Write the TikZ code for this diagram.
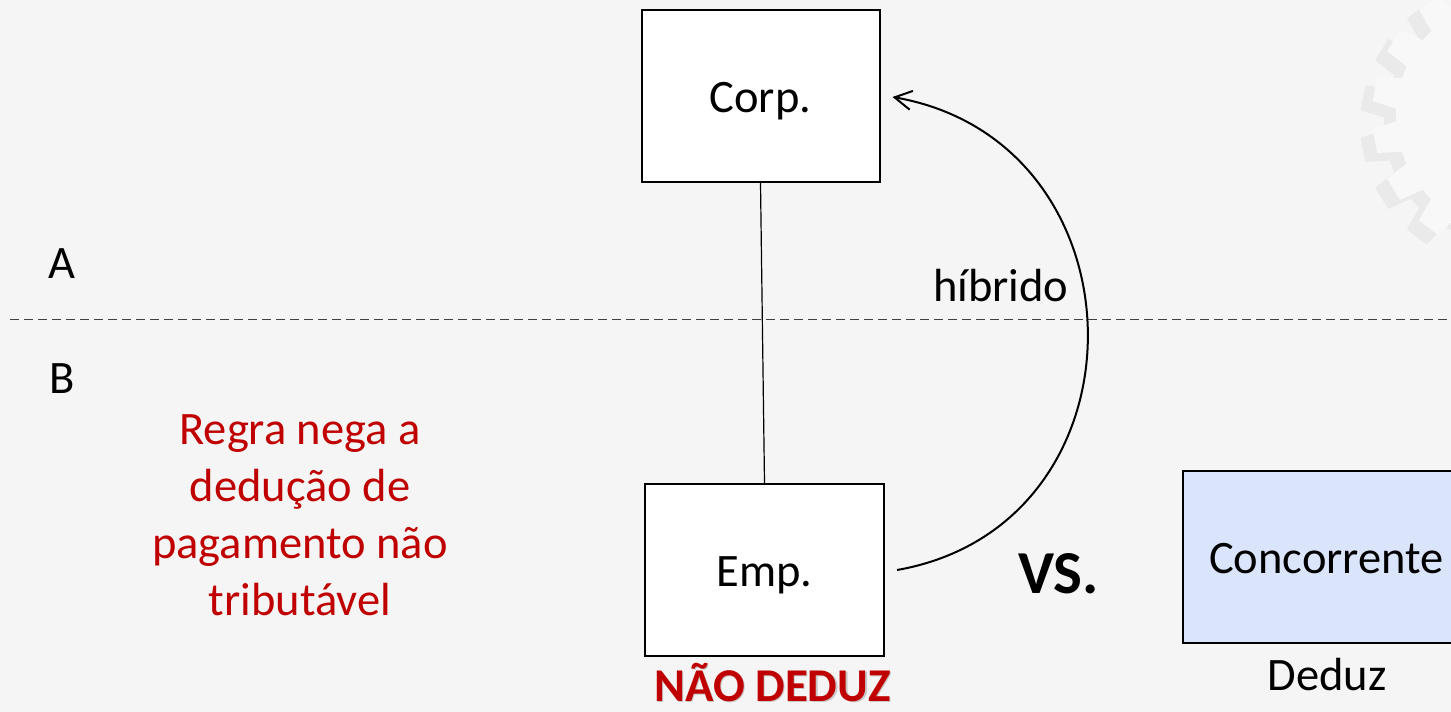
\documentclass[tikz,border=0pt]{standalone}
\usepackage{fontspec}
\setmainfont{Carlito}
\usetikzlibrary{arrows.meta,calc}
\definecolor{bgc}{HTML}{F5F5F5}
\definecolor{redc}{HTML}{C00000}
\definecolor{bluec}{HTML}{DAE5FB}
\definecolor{dashc}{HTML}{404040}
\definecolor{gearshade}{HTML}{EAEAEA}
\definecolor{gearface}{HTML}{F8F8F8}
\begin{document}
\begin{tikzpicture}[x=1pt,y=-1pt,
  txt/.style={font=\fontsize{46.5}{56.7}\selectfont, inner sep=0pt},
  box/.style={draw=black, line width=2pt, fill=white, minimum width=238pt,
    minimum height=172pt, inner sep=0pt, text height=33pt, text depth=0pt,
    font=\fontsize{46.5}{56.7}\selectfont},
  boldtxt/.style={font=\bfseries\fontsize{47}{56}\selectfont, inner sep=0pt, text depth=0pt},
]
\useasboundingbox (0,0) rectangle (1451,712);
\clip (0,0) rectangle (1451,712);
\fill[bgc] (0,0) rectangle (1451,712);
% faint gear watermark
\fill[gearshade] ({1502+118*cos(-7.5)},{124+118*sin(-7.5)})
  \foreach \a in {0,21.18,...,339}{
    -- ({1502+118*cos(\a-7.5)},{124+118*sin(\a-7.5)})
    -- ({1502+142*cos(\a-5)},{124+142*sin(\a-5)})
    -- ({1502+142*cos(\a+5)},{124+142*sin(\a+5)})
    -- ({1502+118*cos(\a+7.5)},{124+118*sin(\a+7.5)})
  } -- cycle;
\fill[gearface] ({1514+118*cos(-7.5)},{115+118*sin(-7.5)})
  \foreach \a in {0,21.18,...,339}{
    -- ({1514+118*cos(\a-7.5)},{115+118*sin(\a-7.5)})
    -- ({1514+142*cos(\a-5)},{115+142*sin(\a-5)})
    -- ({1514+142*cos(\a+5)},{115+142*sin(\a+5)})
    -- ({1514+118*cos(\a+7.5)},{115+118*sin(\a+7.5)})
  } -- cycle;
% dashed separator
\coordinate (dl) at (10,319);
\coordinate (dr) at (1451,319);
\draw[dashc, line width=1pt, dash pattern=on 9pt off 5pt] (dl) -- (dr);
% boxes
\node[box] (corp) at (760.5,96) {Corp.};
\node[box, minimum width=239pt] (emp) at (764.5,570) {Emp.};
\node[box, fill=bluec, minimum width=287pt] (conc) at (1326.5,557) {Concorrente};
% connectors
\draw[line width=1.2pt] (corp.south) -- (emp.north);
\coordinate (cs) at ($(emp.east)+(12,0)$);
\coordinate (ce) at ($(corp.east)+(12,1)$);
\draw[line width=2pt, -{Straight Barb[length=17pt,width=19pt]}]
  (cs) .. controls +(257,-45) and +(257,45) .. (ce);
% labels
\node[txt, anchor=base] (la) at (62,278) {A};
\node[txt, anchor=base] (lb) at (62,393) {B};
\node[txt, anchor=base west] (hib) at (933,301) {híbrido};
\node[txt, text=redc, align=center, anchor=base] (regra) at (300,615)
  {Regra nega a\\dedução de\\pagamento não\\tributável};
\node[font=\bfseries\fontsize{61}{70}\selectfont, inner sep=0pt, anchor=base west] (vs) at (1018,593) {VS.};
\node[boldtxt, text=black, opacity=.18, anchor=base] (naoshadow) at (774,702.5) {NÃO DEDUZ};
\node[boldtxt, text=redc, anchor=base] (nao) at (772.5,701) {NÃO DEDUZ};
\node[txt, anchor=base] (deduz) at (1327,690) {Deduz};
\end{tikzpicture}
\end{document}
